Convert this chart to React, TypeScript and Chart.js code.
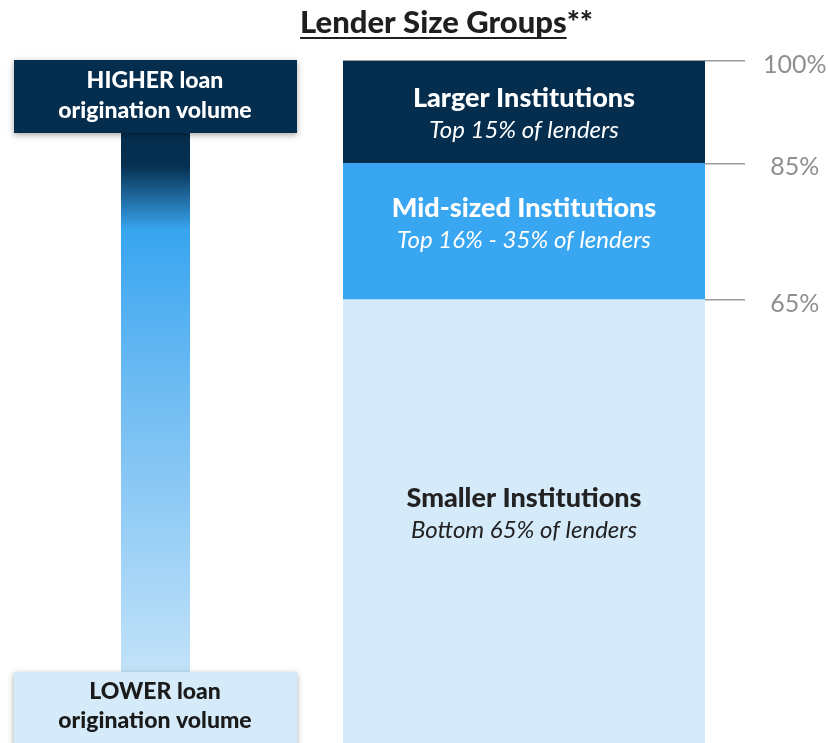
import React, { useEffect, useRef } from 'react';
import { Chart, registerables } from 'chart.js';

Chart.register(...registerables);

const categories = ['Lender Size Groups'];
const groupNames = ['Smaller Institutions', 'Mid-sized Institutions', 'Larger Institutions'];
const groupDescriptions = ['Bottom 65% of lenders', 'Top 16% - 35% of lenders', 'Top 15% of lenders'];
const groupShares = [65, 20, 15];
const groupColors = ['#d6ebfa', '#38a6f1', '#052e4e'];
const groupTextColors = ['#222222', '#ffffff', '#ffffff'];
const tickValues = [65, 85, 100];
const tickLabels = ['65%', '85%', '100%'];
const titleText = 'Lender Size Groups';
const titleSuffix = '**';
const topBoxLines = ['HIGHER loan', 'origination volume'];
const bottomBoxLines = ['LOWER loan', 'origination volume'];

const FONT = 'Lato, "Source Sans Pro", "Open Sans", sans-serif';

const decorPlugin = {
  id: 'decor',
  beforeDraw(chart: any) {
    const ctx = chart.ctx as CanvasRenderingContext2D;
    ctx.save();
    // title
    ctx.font = `900 31px ${FONT}`;
    ctx.fillStyle = '#1f1f1f';
    ctx.textBaseline = 'alphabetic';
    const w1 = ctx.measureText(titleText).width;
    const w2 = ctx.measureText(titleSuffix).width;
    const x0 = 300;
    ctx.textAlign = 'left';
    ctx.fillText(titleText, x0, 33);
    ctx.fillText(titleSuffix, x0 + w1, 33);
    ctx.fillRect(x0, 37, w1, 2);

    // gradient stem
    const gx = 121, gw = 69, gTop = 133, gBot = 672;
    const grad = ctx.createLinearGradient(0, gTop, 0, gBot);
    grad.addColorStop(0, '#052e4e');
    grad.addColorStop(0.06, '#062f50');
    grad.addColorStop(0.18, '#38a5f0');
    grad.addColorStop(0.5, '#72bdf3');
    grad.addColorStop(1, '#c2e2f9');
    ctx.fillStyle = grad;
    ctx.fillRect(gx, gTop, gw, gBot - gTop);

    // boxes
    const drawBox = (y: number, h: number, fill: string, color: string, lines: string[], ty: number[]) => {
      ctx.save();
      ctx.shadowColor = 'rgba(0,0,0,0.35)';
      ctx.shadowBlur = 6;
      ctx.shadowOffsetY = 2;
      ctx.fillStyle = fill;
      ctx.fillRect(14, y, 283, h);
      ctx.restore();
      ctx.fillStyle = color;
      ctx.font = `900 23px ${FONT}`;
      ctx.textAlign = 'center';
      ctx.textBaseline = 'middle';
      lines.forEach((l, i) => ctx.fillText(l, 155, ty[i]));
    };
    drawBox(60, 73, '#052e4e', '#ffffff', topBoxLines, [81, 111]);
    drawBox(672, 80, '#d6ebfa', '#1a1a1a', bottomBoxLines, [692, 721]);
    ctx.restore();
  },
};

const segmentLabelPlugin = {
  id: 'segmentLabels',
  afterDatasetsDraw(chart: any) {
    const ctx = chart.ctx as CanvasRenderingContext2D;
    ctx.save();
    ctx.textAlign = 'center';
    ctx.textBaseline = 'middle';
    chart.data.datasets.forEach((ds: any, i: number) => {
      const el = chart.getDatasetMeta(i).data[0];
      if (!el) return;
      const top = Math.min(el.y, el.base);
      const bot = Math.max(el.y, el.base);
      const cy = (top + bot) / 2 - (i === 2 ? -2 : 7);
      ctx.fillStyle = groupTextColors[i];
      ctx.font = `900 27px ${FONT}`;
      ctx.fillText(groupNames[i], el.x, cy - 16);
      ctx.font = `italic 400 24px ${FONT}`;
      ctx.fillText(groupDescriptions[i], el.x, cy + 16);
    });
    ctx.restore();
  },
};

export default function App() {
  const ref = useRef<HTMLCanvasElement>(null);
  useEffect(() => {
    if (!ref.current) return;
    const chart = new Chart(ref.current, {
      type: 'bar',
      data: {
        labels: categories,
        datasets: groupNames.map((name, i) => ({
          label: name,
          data: [groupShares[i]],
          backgroundColor: groupColors[i],
          borderWidth: 0,
          barPercentage: 1,
          categoryPercentage: 1,
        })),
      },
      options: {
        responsive: false,
        animation: false,
        layout: { padding: { left: 343, top: 61, right: 0, bottom: 0 } },
        plugins: { legend: { display: false }, tooltip: { enabled: false }, title: { display: false } },
        scales: {
          x: { stacked: true, display: false },
          y: {
            stacked: true,
            min: 0,
            max: 100,
            position: 'right',
            z: 1,
            afterBuildTicks: (s: any) => {
              s.ticks = tickValues.map((v) => ({ value: v }));
            },
            afterFit: (s: any) => {
              s.width = 123;
              s.paddingTop = 0;
              s.paddingBottom = 0;
            },
            grid: { color: '#9a9a9a', lineWidth: 1.5, tickLength: 40, drawTicks: true },
            border: { display: false },
            ticks: {
              color: '#8f8f8f',
              font: { family: FONT, size: 25, weight: '400' },
              padding: 18,
              crossAlign: 'center',
              labelOffset: 4,
              callback: (v: any) => {
                const idx = tickValues.indexOf(Number(v));
                return idx >= 0 ? tickLabels[idx] : '';
              },
            },
          },
        },
      } as any,
      plugins: [decorPlugin, segmentLabelPlugin],
    });
    return () => chart.destroy();
  }, []);
  return (
    <div style={{ position: 'absolute', left: 0, top: 0, width: 828, height: 743, overflow: 'hidden', background: '#fff' }}>
      <canvas ref={ref} width={828} height={743} style={{ display: 'block' }} />
    </div>
  );
}
